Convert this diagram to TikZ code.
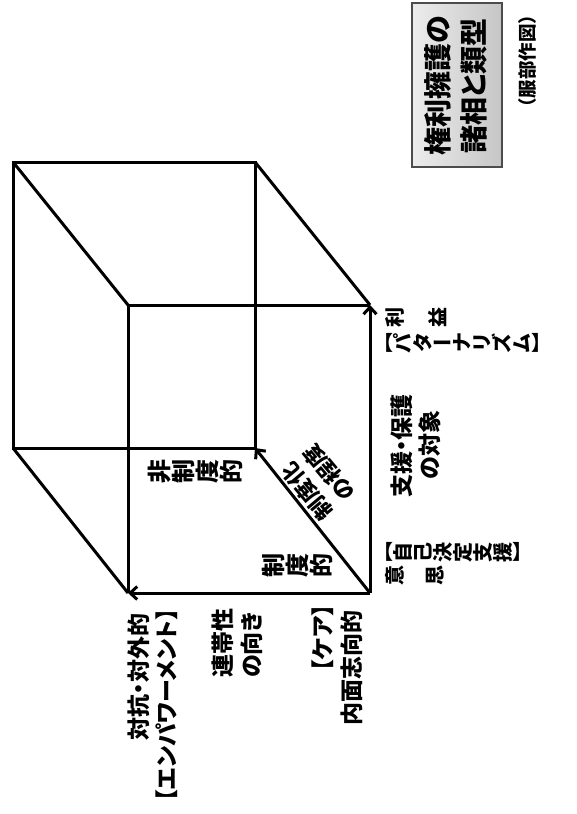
\documentclass[tikz,border=0pt]{standalone}
\usepackage{fontspec}
\usepackage{graphicx}
\usetikzlibrary{arrows.meta}
\newfontfamily\jp{Noto Sans CJK JP}[RawFeature=+palt]
\newfontfamily\jpf{Noto Sans CJK JP}
\newcommand\rg[1]{\rotatebox[origin=c]{90}{\rule[-0.12em]{0pt}{1em}#1}}
\begin{document}
\begin{tikzpicture}[x=1pt,y=-1pt, line width=3pt, line join=miter,
  arr/.style={-{Straight Barb[length=7pt,width=13pt]}},
  lab/.style={font=\jp\bfseries\fontsize{23}{28}\selectfont, rotate=90, inner sep=0pt},
  diag/.style={font=\jp\bfseries\fontsize{22}{26}\selectfont, rotate=130, inner sep=0pt, anchor=west},
  rowt/.style={font=\jp\bfseries\fontsize{20}{24}\selectfont, inner sep=0pt},
  rowb/.style={font=\jp\bfseries\fontsize{24}{28}\selectfont, inner sep=0pt},
  ttl/.style={font=\jp\bfseries\fontsize{28}{32}\selectfont, rotate=90, inner sep=0pt},
  src/.style={font=\jpf\bfseries\fontsize{18.5}{22}\selectfont, rotate=90, inner sep=0pt}]
\useasboundingbox (0,0) rectangle (577,814);
% cube corners
\coordinate (A) at (13,162);
\coordinate (B) at (255,162);
\coordinate (C) at (13,448);
\coordinate (D) at (255,448);
\coordinate (E) at (128,305);
\coordinate (F) at (370,305);
\coordinate (G) at (128,593);
\coordinate (H) at (370,593);
\draw (A) -- (B) -- (D) -- (C) -- cycle;
\draw (A) -- (E);
\draw (B) -- (F);
\draw (C) -- (G);
\draw (G) -- (E) -- (F);
\draw[arr] (H) -- (G);
\draw[arr] (H) -- (F);
\draw[arr] (H) -- (D);
% title
\node (tbox) [draw=black!70, line width=1.2pt, left color=gray!15, right color=gray!45,
  minimum width=90pt, minimum height=164pt, inner sep=0pt] at (457,85) {};
\node (t1) [ttl] at (438,86) {権利擁護の};
\node (t2) [ttl] at (474,86) {諸相と類型};
\node (src) [src] at (527,61) {（服部作図）};
% labels inside cube
\node (hs) [rowb] at (195,471) {\rg{非}\rg{制}\rg{度}\rg{的}};
\node (sd) [rowb] at (297,565) {\rg{制}\rg{度}\rg{的}};
\node (d1) [diag] at (329,518) {制度化};
\node (d2) [diag] at (351,499) {の程度};
% bottom labels
\node (l1) [lab] at (139,677) {対抗・対外的};
\node (l2) [lab] at (167,705) {【エンパワーメント】};
\node (m1) [lab] at (223,643) {連帯性};
\node (m2) [lab] at (252,645) {の向き};
\node (k1) [lab] at (323,638) {【ケア】};
\node (k2) [lab] at (352,668) {内面志向的};
% right labels
\node (s1) [lab] at (402,446) {支援・保護};
\node (s2) [lab] at (430,445) {の対象};
\node (u1) [rowt] at (416,317) {\rg{利}\hspace{23pt}\rg{益}};
\node (u2) [rowt, anchor=west] at (381,343) {【\rg{パ}\rg{タ}ー\rg{ナ}\rg{リ}\rg{ズ}\rg{ム}】};
\node (w1) [rowt, anchor=west] at (381,552) {【\rg{自}\rg{己}\rg{決}\rg{定}\rg{支}\rg{援}】};
\node (w2) [rowt] at (415,575) {\rg{意}\hspace{20pt}\rg{思}};
\end{tikzpicture}
\end{document}
